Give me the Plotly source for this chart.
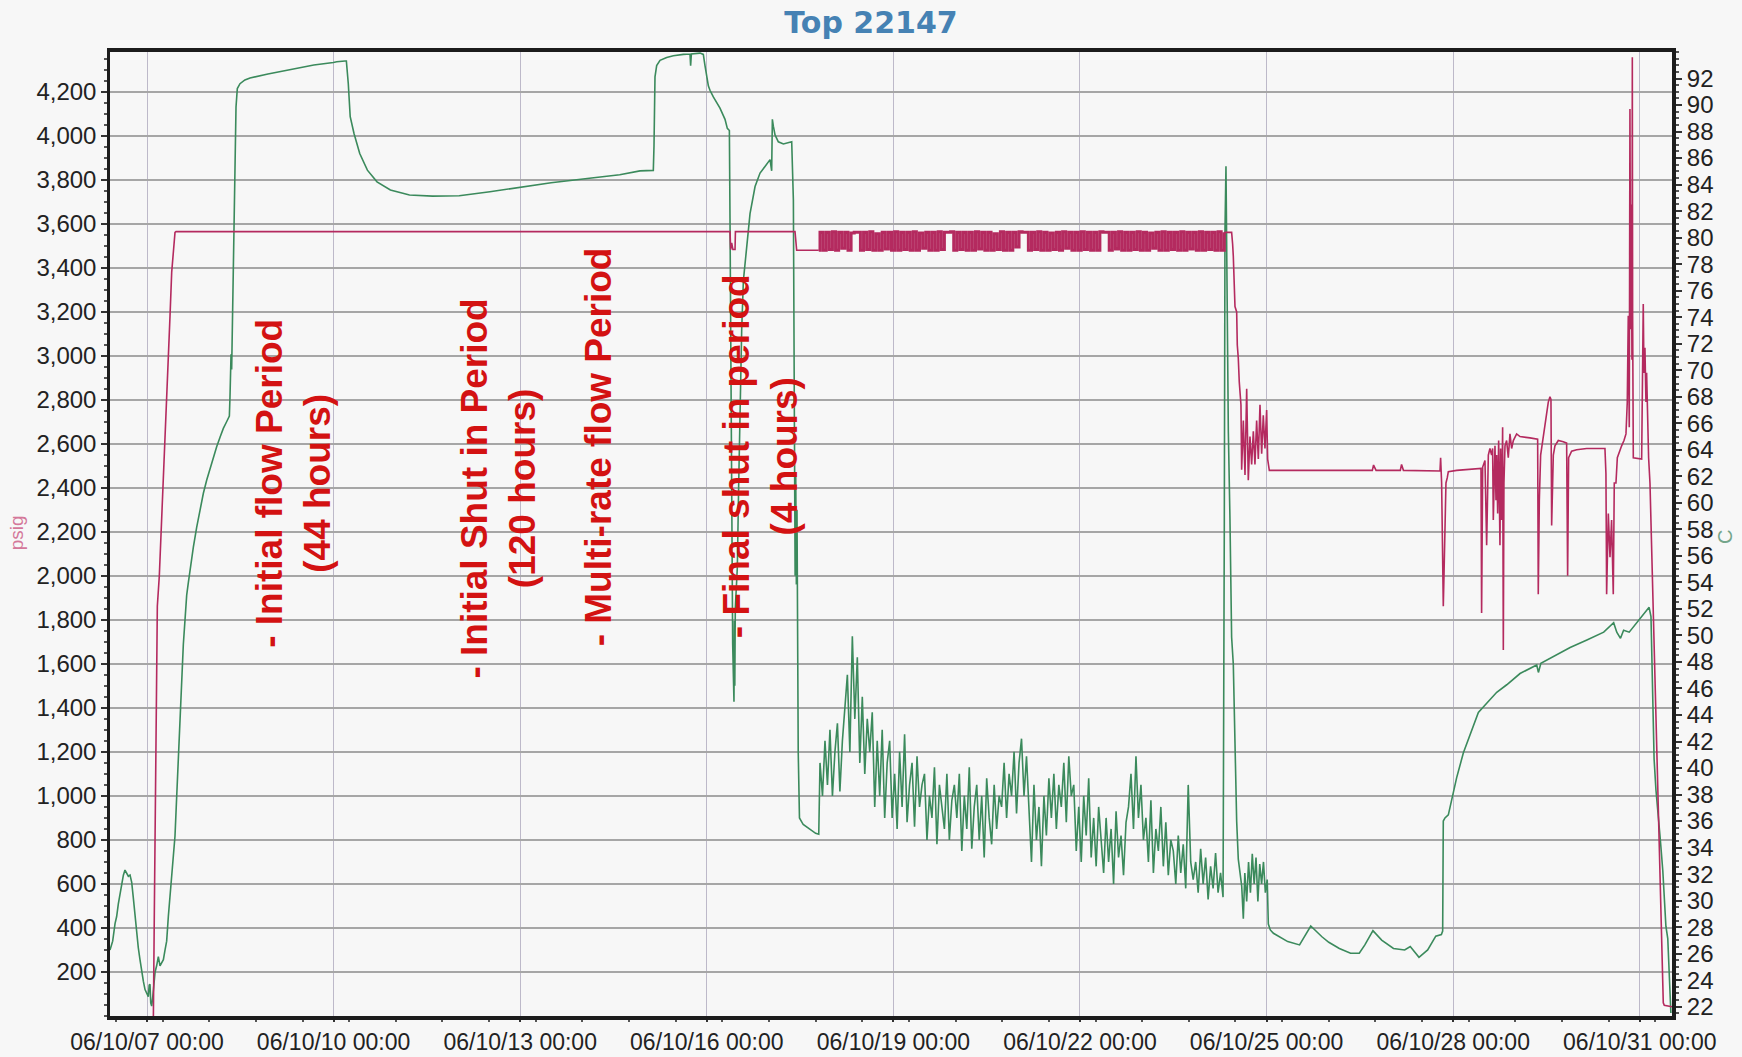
import pandas as pd
import plotly.graph_objects as go

# ---------------- data (time = days since 06/10/07 00:00) ----------------
BASE = pd.Timestamp("2006-10-07 00:00")

# Pressure (psig) - green, left axis
green_t = [-0.595, -0.552, -0.514, -0.488, -0.461, -0.434, -0.407, -0.380, -0.354, -0.327,
           -0.300, -0.273, -0.246, -0.220, -0.193, -0.166, -0.140, -0.113, -0.086, -0.059,
           -0.032, -0.005, 0.021, 0.035, 0.048, 0.060, 0.075, 0.090, 0.102, 0.130,
           0.155, 0.182, 0.209, 0.236, 0.263, 0.290, 0.316, 0.343, 0.370, 0.397,
           0.423, 0.450, 0.470, 0.488, 0.510, 0.531, 0.558, 0.584, 0.611, 0.638,
           0.665, 0.691, 0.745, 0.799, 0.852, 0.906, 0.960, 1.013, 1.067, 1.120,
           1.174, 1.227, 1.280, 1.324, 1.334, 1.351, 1.361, 1.377, 1.388, 1.399,
           1.415, 1.431, 1.452, 1.495, 1.574, 1.656, 1.944, 2.192, 2.313, 2.460,
           2.682, 2.996, 3.051, 3.183, 3.205, 3.236, 3.267, 3.328, 3.420, 3.543,
           3.698, 3.913, 4.220, 4.590, 5.020, 5.513, 6.005, 6.497, 7.113, 7.600,
           7.926, 8.140, 8.151, 8.167, 8.194, 8.248, 8.355, 8.462, 8.623, 8.730,
           8.740, 8.752, 8.891, 8.944, 8.971, 8.998, 9.025, 9.051, 9.105, 9.212,
           9.293, 9.330, 9.363, 9.373, 9.384, 9.395, 9.405, 9.416, 9.427, 9.437,
           9.443, 9.450, 9.458, 9.469, 9.491, 9.512, 9.534, 9.561, 9.588, 9.641,
           9.695, 9.776, 9.856, 9.936, 10.017, 10.043, 10.054, 10.070, 10.097, 10.150,
           10.231, 10.365, 10.381, 10.392, 10.410, 10.420, 10.430, 10.440, 10.450, 10.460,
           10.470, 10.490, 10.550, 10.650, 10.750, 10.800]
green_p = [300, 340, 420, 452, 509, 560, 607, 640, 663, 650,
           635, 640, 607, 537, 450, 368, 310, 256, 200, 158,
           120, 102, 88, 140, 144, 60, 45, 80, 116, 200,
           228, 270, 228, 240, 256, 300, 340, 452, 550, 649,
           730, 818, 950, 1070, 1210, 1351, 1520, 1688, 1800, 1912,
           1970, 2025, 2130, 2221, 2300, 2375, 2435, 2488, 2540, 2586,
           2630, 2670, 2700, 2726, 2811, 3007, 2937, 3203, 3500, 3750,
           3950, 4130, 4214, 4236, 4253, 4262, 4280, 4293, 4302, 4309,
           4321, 4332, 4336, 4339, 4339, 4237, 4086, 4010, 3919, 3843,
           3790, 3753, 3730, 3725, 3727, 3745, 3765, 3786, 3806, 3822,
           3840, 3842, 3952, 4267, 4318, 4342, 4355, 4363, 4369, 4371,
           4318, 4371, 4375, 4369, 4318, 4267, 4226, 4206, 4176, 4125,
           4074, 4033, 4023, 3626, 3015, 2405, 1998, 1693, 1550, 1428,
           1795, 1500, 1850, 1896, 2039, 2405, 2812, 3117, 3341, 3504,
           3646, 3769, 3830, 3860, 3891, 3840, 4074, 4043, 4003, 3972,
           3962, 3972, 3830, 3708, 2600, 2000, 2450, 1960, 2300, 1900,
           1200, 900, 870, 850, 830, 826]

# noisy multi-rate flow section, logged at a fixed interval
green_noise_start = 10.82
green_noise_step = 0.04
green_noise_p = [1150, 1000, 1250,
                 1050, 1300, 1000, 1200, 1330, 1020, 1250,
                 1400, 1550, 1200, 1725, 1350,
                 1630, 1150, 1450, 1100, 1350, 1200,
                 1380, 950, 1250, 1000, 1300, 900, 1150,
                 1250, 900, 1100, 850, 1200, 950, 1280, 880, 1050, 1150, 860, 1180, 950, 1050,
                 1100, 800, 1000, 900, 1130, 780, 1050, 950, 850, 1100, 800, 980, 1050,
                 900, 1100, 750, 1000, 850, 1130, 760, 950, 1050, 800, 1000, 720, 1080, 900, 780, 1050, 850, 1000,
                 950, 1150, 900, 1100, 1000, 1200, 920, 1150, 1260, 1000, 1180,
                 900, 700, 1050, 800, 950, 680, 1000, 820, 1080,
                 900, 1100, 850, 1050, 950, 1150, 880, 1180, 1000,
                 1050, 750, 950, 700, 1000, 820, 1080, 720, 900, 680, 950,
                 800, 650, 900, 700, 850, 600, 930, 720, 820, 640, 880,
                 950, 1100, 850, 1180, 900, 1050, 800,
                 900, 700, 980, 650, 850, 750, 950, 680, 880, 640, 800,
                 750, 600, 820, 650, 780, 580, 1050, 700, 620,
                 700, 560, 760, 600, 720, 530, 680, 580, 740, 560, 650, 540]

green_t2 = [17.320, 17.331, 17.347, 17.358, 17.370, 17.385, 17.411, 17.438, 17.465, 17.492,
            17.519, 17.545, 17.572, 17.600, 17.626, 17.650, 17.680, 17.710, 17.740, 17.770,
            17.800, 17.830, 17.860, 17.890, 17.920, 17.950, 17.980, 18.010, 18.028, 18.060,
            18.110, 18.220, 18.340, 18.530, 18.620, 18.710, 18.890, 19.000, 19.170, 19.350,
            19.490, 19.580, 19.710, 19.850, 20.040, 20.220, 20.310, 20.450, 20.590, 20.720,
            20.810, 20.831, 20.841, 20.868, 20.922, 20.976, 21.056, 21.164, 21.271, 21.405,
            21.539, 21.700, 21.861, 22.075, 22.343, 22.370, 22.410, 22.610, 22.880, 23.150,
            23.420, 23.580, 23.630, 23.690, 23.740, 23.830, 23.910, 24.020, 24.150, 24.180,
            24.200, 24.220, 24.230, 24.260, 24.300, 24.330, 24.370, 24.400, 24.420, 24.450,
            24.480, 24.500]
green_p2 = [2213, 3566, 3861, 3566, 2951, 2656, 2262, 1721, 1598, 1229,
            885, 713, 663, 590, 442, 650, 520, 700, 560, 737,
            600, 720, 520, 690, 600, 700, 560, 620, 418, 391,
            376, 356, 338, 323, 365, 409, 360, 335, 307, 285,
            285, 323, 388, 345, 307, 300, 316, 267, 300, 363,
            370, 386, 886, 900, 914, 985, 1083, 1196, 1280, 1379,
            1421, 1471, 1505, 1556, 1595, 1561, 1603, 1632, 1674, 1708,
            1744, 1787, 1744, 1716, 1753, 1744, 1772, 1815, 1857, 1815,
            1590, 1308, 1168, 1027, 914, 802, 661, 521, 408, 352,
            183, 14]

# Temperature (C) - pink, right axis
pink_t = [-0.595, 0.102, 0.118, 0.145, 0.166, 0.198, 0.236, 0.263, 0.289, 0.316,
          0.343, 0.370, 0.397, 0.423, 0.450, 0.466, 9.373, 9.384, 9.400, 9.420,
          9.454, 9.460, 10.418, 10.445, 10.800]
pink_c = [21.0, 21.0, 29.3, 42.4, 52.2, 54.5, 58.7, 61.0, 64.3, 67.6,
          70.8, 74.1, 77.4, 79.2, 80.4, 80.45, 80.45, 79.1, 79.6, 79.1,
          79.1, 80.45, 80.45, 79.05, 79.05]

pink_noise_start = 10.82
pink_noise_step = 0.05
pink_noise_c = [80.4, 79.05, 80.4, 79.1, 80.45, 79.05, 80.4, 79.2, 80.4, 79.05,
                80.35, 80.4, 80.4, 79.05, 80.4, 79.1, 80.45, 79.05, 80.3, 79.05,
                80.4, 79.15, 80.4, 79.05, 80.45, 79.05, 80.4, 79.1, 80.4, 79.05,
                80.45, 79.05, 80.35, 79.2, 80.4, 79.05, 80.4, 79.05, 80.45, 79.1,
                80.4, 80.4, 80.45, 79.05, 80.4, 79.1, 80.4, 79.05, 80.4, 79.05,
                80.45, 79.15, 80.4, 79.05, 80.4, 79.05, 80.3, 79.1, 80.45, 79.05,
                80.4, 79.05, 80.4, 79.3, 80.45, 80.4, 80.4, 79.05, 80.4, 79.1,
                80.45, 79.05, 80.4, 79.05, 80.35, 79.1, 80.4, 79.05, 80.45, 79.2,
                80.4, 79.05, 80.4, 79.05, 80.45, 79.1, 80.4, 79.05, 80.4, 79.05,
                80.45, 80.4, 80.4, 79.05, 80.4, 79.15, 80.45, 79.05, 80.4, 79.05,
                80.4, 79.1, 80.45, 79.05, 80.4, 79.05, 80.35, 79.2, 80.4, 79.05,
                80.45, 79.05, 80.4, 79.1, 80.4, 79.05, 80.45, 79.05, 80.4, 79.15,
                80.4, 79.05, 80.45, 79.05, 80.4, 79.1, 80.4, 79.05, 80.45, 79.05,
                80.4]

pink_t2 = [17.331, 17.438, 17.454, 17.465, 17.492, 17.519, 17.529, 17.545, 17.561, 17.572,
           17.588, 17.599, 17.626, 17.653, 17.680, 17.706, 17.733, 17.760, 17.787, 17.813,
           17.840, 17.867, 17.894, 17.921, 17.947, 17.974, 18.001, 18.017, 18.044, 19.700,
           19.720, 19.760, 20.150, 20.170, 20.200, 20.788, 20.798, 20.814, 20.830, 20.841,
           20.852, 20.868, 20.884, 20.905, 20.922, 21.056, 21.270, 21.447, 21.457, 21.474,
           21.511, 21.538, 21.565, 21.591, 21.618, 21.634, 21.645, 21.672, 21.688, 21.699,
           21.715, 21.731, 21.752, 21.763, 21.779, 21.795, 21.806, 21.816, 21.833, 21.859,
           21.886, 21.913, 21.940, 21.967, 22.020, 22.074, 22.234, 22.358, 22.368, 22.385,
           22.406, 22.438, 22.476, 22.502, 22.529, 22.556, 22.572, 22.583, 22.594, 22.610,
           22.636, 22.690, 22.770, 22.824, 22.840, 22.856, 22.904, 22.985, 23.146, 23.360,
           23.440, 23.456, 23.467, 23.494, 23.521, 23.547, 23.574, 23.590, 23.617, 23.639,
           23.671, 23.708, 23.746, 23.778, 23.799, 23.815, 23.831, 23.842, 23.853, 23.864,
           23.874, 23.880, 23.885, 23.896, 24.030, 24.056, 24.067, 24.083, 24.099, 24.110,
           24.126, 24.142, 24.164, 24.191, 24.217, 24.244, 24.271, 24.298, 24.325, 24.352,
           24.368, 24.378, 24.394, 24.518]
pink_c2 = [80.4, 80.4, 79.5, 78.6, 74.8, 74.4, 71.9, 70.9, 69.1, 68.2,
           67.4, 62.5, 66.2, 62.1, 68.6, 61.7, 65.0, 62.9, 65.4, 62.9,
           66.2, 63.3, 67.4, 63.7, 66.6, 64.1, 67.0, 63.3, 62.45, 62.45,
           62.85, 62.45, 62.45, 62.9, 62.45, 62.4, 63.4, 61.5, 56.8, 52.2,
           54.5, 58.7, 61.5, 61.9, 62.35, 62.45, 62.55, 62.6, 51.7, 62.7,
           63.2, 56.8, 63.6, 64.1, 63.6, 64.1, 58.7, 64.3, 60.2, 63.6,
           59.2, 64.7, 56.8, 64.1, 58.7, 65.7, 48.9, 61.5, 64.3, 64.7,
           63.4, 65.2, 64.1, 64.7, 65.2, 65.0, 64.9, 64.8, 53.1, 60.2,
           63.6, 64.7, 65.7, 66.6, 67.6, 68.0, 67.8, 58.3, 61.5, 63.6,
           64.3, 64.7, 64.6, 64.5, 54.5, 63.4, 63.9, 64.0, 64.1, 64.1,
           64.1, 62.2, 53.1, 59.2, 55.9, 58.7, 53.1, 61.5, 61.5, 63.4,
           63.9, 64.3, 64.7, 65.2, 67.6, 74.1, 65.7, 89.7, 73.1, 82.5,
           70.8, 93.6, 74.1, 63.4, 63.3, 75.0, 69.8, 71.7, 67.6, 69.8,
           65.7, 63.4, 61.5, 56.8, 52.2, 47.5, 42.8, 38.2, 33.5, 28.9,
           26.1, 22.3, 22.1, 22.0]

left_ticks = list(range(200, 4201, 200))
right_ticks = list(range(22, 93, 2))
x_range_days = [-0.595, 24.518]

annotation_texts = [
    "- Initial flow Period<br>(44 hours)",
    "- Initial Shut in Period<br>(120 hours)",
    "- Multi-rate flow Period",
    "- Final shut in period<br>(4 hours)",
]

# ---------------- assemble ----------------
def to_dt(days):
    return [BASE + pd.Timedelta(days=float(d)) for d in days]

green_noise_t = [green_noise_start + i * green_noise_step for i in range(len(green_noise_p))]
pink_noise_t = [pink_noise_start + i * pink_noise_step for i in range(len(pink_noise_c))]

gx = to_dt(green_t + green_noise_t + green_t2)
gy = green_p + green_noise_p + green_p2

GREEN = "#3b8a5c"
PINK = "#b42a5f"
FONT = "Liberation Sans, Arial, sans-serif"

fig = go.Figure()
fig.add_trace(go.Scatter(x=gx, y=gy, mode="lines", yaxis="y",
                         line=dict(color=GREEN, width=1.6), hoverinfo="skip"))
# temperature: steady parts
fig.add_trace(go.Scatter(x=to_dt(pink_t), y=pink_c, mode="lines", yaxis="y2",
                         line=dict(color=PINK, width=1.6), hoverinfo="skip"))
# temperature: rapid toggling during multi-rate flow
fig.add_trace(go.Scatter(x=to_dt([pink_t[-1]] + pink_noise_t), y=[pink_c[-1]] + pink_noise_c,
                         mode="lines", yaxis="y2",
                         line=dict(color=PINK, width=3.0, shape="hv"), hoverinfo="skip"))
fig.add_trace(go.Scatter(x=to_dt([pink_noise_t[-1]] + pink_t2), y=[pink_noise_c[-1]] + pink_c2,
                         mode="lines", yaxis="y2",
                         line=dict(color=PINK, width=1.6), hoverinfo="skip"))

ann_pos = [(0.1170, 0.5529), (0.2489, 0.5469), (0.3129, 0.5907), (0.4165, 0.5803)]
annotations = []
for txt, (ax_, ay_) in zip(annotation_texts, ann_pos):
    annotations.append(dict(text=txt, xref="paper", yref="paper", x=ax_, y=ay_,
                            xanchor="center", yanchor="middle", textangle=-90,
                            showarrow=False, align="center",
                            font=dict(family=FONT, size=37, color="#d31212", weight="bold")))
annotations.append(dict(text="psig", xref="paper", yref="paper", x=-0.0600, y=0.501,
                        xanchor="center", yanchor="middle", textangle=-90, showarrow=False,
                        font=dict(family=FONT, size=19, color="#d4789a")))
annotations.append(dict(text="C", xref="paper", yref="paper", x=1.034, y=0.497,
                        xanchor="center", yanchor="middle", textangle=-90, showarrow=False,
                        font=dict(family=FONT, size=20, color="#74a58a")))

DAY_MS = 86400000
fig.update_layout(
    width=1742, height=1057,
    margin=dict(l=110, r=70, t=52, b=41, autoexpand=False),
    paper_bgcolor="#f7f7f7", plot_bgcolor="#f7f7f7",
    showlegend=False, hovermode=False,
    title=dict(text="<b>Top 22147</b>", x=0.5, xanchor="center", xref="container",
               y=1 - 22 / 1057, yanchor="middle", yref="container",
               font=dict(family="DejaVu Sans, Verdana, sans-serif", size=30, color="#4682b4")),
    xaxis=dict(type="date", range=to_dt(x_range_days),
               tick0="2006-10-07", dtick=3 * DAY_MS, tickformat="%y/%m/%d %H:%M",
               ticks="outside", ticklen=2, tickwidth=1.5, tickcolor="#333",
               showgrid=True, gridcolor="#bdb9c9", gridwidth=1.2,
               showline=True, linecolor="#1c1c1c", linewidth=4, mirror=True,
               zeroline=False,
               tickfont=dict(family=FONT, size=23, color="#222"),
               minor=dict(dtick=0.75 * DAY_MS, ticks="outside", ticklen=2,
                          tickcolor="#555", showgrid=False)),
    yaxis=dict(range=[0, 4380], tickmode="array", tickvals=left_ticks, tickformat=",d",
               ticks="outside", ticklen=6, tickwidth=1.5, tickcolor="#333",
               showgrid=True, gridcolor="#a6a6a6", gridwidth=2,
               showline=True, linecolor="#1c1c1c", linewidth=2.5, zeroline=False,
               tickfont=dict(family=FONT, size=24, color="#222"),
               minor=dict(dtick=50, tick0=0, ticks="outside", ticklen=3,
                          tickcolor="#555", showgrid=False)),
    yaxis2=dict(overlaying="y", side="right", range=[21.3, 94.0],
                tickmode="array", tickvals=right_ticks,
                ticks="outside", ticklen=6, tickwidth=1.5, tickcolor="#333",
                showgrid=False, showline=True, linecolor="#1c1c1c", linewidth=4,
                zeroline=False,
                tickfont=dict(family=FONT, size=24, color="#222"),
                minor=dict(dtick=0.5, tick0=0, ticks="outside", ticklen=3,
                           tickcolor="#555", showgrid=False)),
    annotations=annotations,
)

fig.write_html("out.html", config={"displayModeBar": False},
               post_script="document.body.style.margin='0';document.body.style.overflow='hidden';")
